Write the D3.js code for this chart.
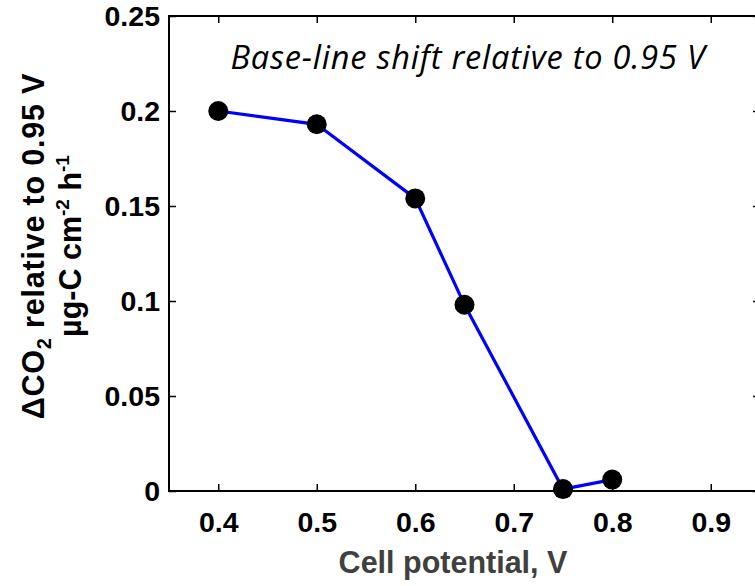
<!DOCTYPE html>
<html><head><meta charset="utf-8">
<script src="https://cdn.jsdelivr.net/npm/d3@7"></script>
<style>body{margin:0;background:#fff}svg{display:block}</style>
</head><body>
<script>
const potentials = [0.4, 0.5, 0.6, 0.65, 0.75, 0.8];
const deltaCO2 = [0.200, 0.193, 0.154, 0.098, 0.001, 0.006];
const xTicks = [0.4, 0.5, 0.6, 0.7, 0.8, 0.9];
const yTicks = [0, 0.05, 0.1, 0.15, 0.2, 0.25];
const yTickLabels = ["0", "0.05", "0.1", "0.15", "0.2", "0.25"];

const W = 755, H = 586;
const svg = d3.select("body").append("svg").attr("width", W).attr("height", H);
const mLeft = 169, mRight = 760, mTop = 16, mBottom = 491;
const x = d3.scaleLinear().domain([0.35, 0.95]).range([mLeft, mRight]);
const y = d3.scaleLinear().domain([0, 0.25]).range([mBottom, mTop]);

const font = "'Liberation Sans', Arial, sans-serif";

// frame
svg.append("rect").attr("x", mLeft).attr("y", mTop).attr("width", mRight - mLeft).attr("height", mBottom - mTop)
  .attr("fill", "none").attr("stroke", "#000").attr("stroke-width", 2);

// axes
const ax = svg.append("g").attr("transform", `translate(0,${mBottom})`)
  .call(d3.axisBottom(x).tickValues(xTicks).tickSize(-7).tickPadding(21).tickFormat(d3.format(".1f")));
const ay = svg.append("g").attr("transform", `translate(${mLeft},0)`)
  .call(d3.axisLeft(y).tickValues(yTicks).tickSize(-7).tickPadding(9).tickFormat((d, i) => yTickLabels[i]));
const axTop = svg.append("g").attr("transform", `translate(0,${mTop})`)
  .call(d3.axisTop(x).tickValues(xTicks).tickSize(-7).tickFormat(""));
const ayR = svg.append("g").attr("transform", `translate(${mRight},0)`)
  .call(d3.axisRight(y).tickValues(yTicks).tickSize(-7).tickFormat(""));
[ax, ay, axTop, ayR].forEach(g => {
  g.select(".domain").remove();
  g.selectAll(".tick line").attr("stroke", "#000").attr("stroke-width", 1.5);
  g.selectAll("text").attr("font-family", font).attr("font-weight", "bold").attr("font-size", 28.5).attr("fill", "#000");
});

// line and points
const line = d3.line().x((d, i) => x(potentials[i])).y(d => y(d));
svg.append("path").datum(deltaCO2).attr("d", line).attr("fill", "none")
  .attr("stroke", "#0000ff").attr("stroke-width", 3.2);
svg.selectAll("circle.pt").data(deltaCO2).enter().append("circle")
  .attr("cx", (d, i) => x(potentials[i])).attr("cy", d => y(d)).attr("r", 10).attr("fill", "#000");

// annotation
svg.append("text").attr("x", 468).attr("y", 69).attr("text-anchor", "middle")
  .attr("font-family", "'Open Sans', sans-serif").attr("font-style", "italic").attr("font-size", 32.5)
  .attr("letter-spacing", 0.8).attr("fill", "#000").text("Base-line shift relative to 0.95 V");

// x label
svg.append("text").attr("x", 453).attr("y", 573).attr("text-anchor", "middle")
  .attr("font-family", font).attr("font-weight", "bold").attr("font-size", 30.5).attr("fill", "#404040")
  .text("Cell potential, V");

// y label
const yl = svg.append("text").attr("transform", "translate(0,246) rotate(-90)")
  .attr("text-anchor", "middle").attr("font-family", font).attr("font-weight", "bold")
  .attr("font-size", 30.5).attr("fill", "#000");
const t1 = yl.append("tspan").attr("x", 0).attr("y", 44).attr("letter-spacing", 0.8);
t1.append("tspan").text("ΔCO");
t1.append("tspan").attr("font-size", 20).attr("dy", 7).text("2");
t1.append("tspan").attr("dy", -7).text(" relative to 0.95 V");
const t2 = yl.append("tspan").attr("x", 0).attr("y", 81);
t2.append("tspan").text("µg-C cm");
t2.append("tspan").attr("font-size", 19).attr("dy", -12).text("-2");
t2.append("tspan").attr("dy", 12).text(" h");
t2.append("tspan").attr("font-size", 19).attr("dy", -12).text("-1");
</script>
</body></html>
